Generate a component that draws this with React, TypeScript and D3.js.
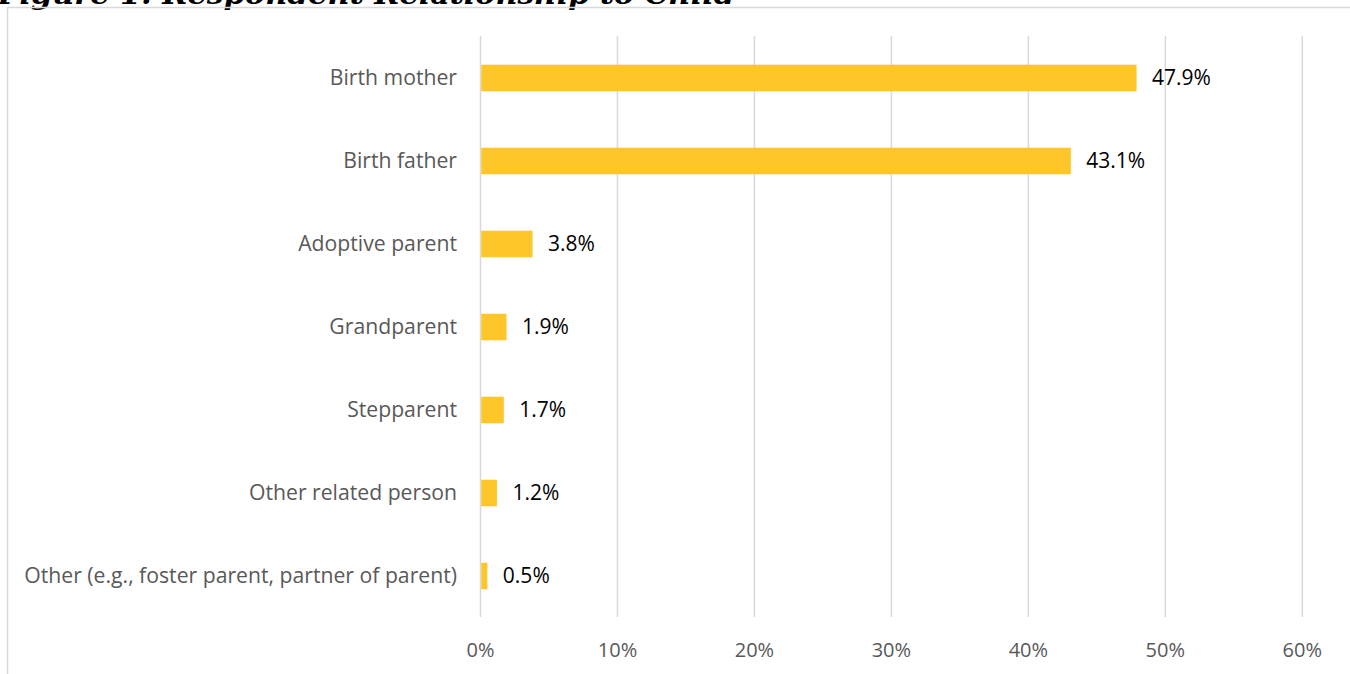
import React from "react";
import * as d3 from "d3";

const categories = [
  "Birth mother",
  "Birth father",
  "Adoptive parent",
  "Grandparent",
  "Stepparent",
  "Other related person",
  "Other (e.g., foster parent, partner of parent)",
];
const values = [47.9, 43.1, 3.8, 1.9, 1.7, 1.2, 0.5];
const ticks = [0, 10, 20, 30, 40, 50, 60];
const title = "Figure 1. Respondent Relationship to Child";

const W = 1350;
const H = 674;

export default function App() {
  const x = d3.scaleLinear().domain([0, 60]).range([480.5, 1302.3]);
  const y = d3
    .scaleBand<string>()
    .domain(categories)
    .range([36, 617])
    .paddingInner(0.68)
    .paddingOuter(0.34);
  const font = "'Open Sans', sans-serif";
  return (
    <svg
      width={W}
      height={H}
      style={{ position: "absolute", left: 0, top: 0, background: "#fff" }}
    >
      <text
        x={-2}
        y={4}
        fontFamily="'DejaVu Serif', serif"
        fontWeight="bold"
        fontStyle="italic"
        fontSize={27}
        fill="#000"
        textLength={737}
        lengthAdjust="spacingAndGlyphs"
      >
        {title}
      </text>
      <rect
        x={7.5}
        y={7.5}
        width={W + 10}
        height={H + 10}
        fill="none"
        stroke="#d9d9d9"
        strokeWidth={1.5}
      />
      {ticks.map((t) => (
        <g key={t}>
          <line
            x1={x(t)}
            x2={x(t)}
            y1={36}
            y2={617}
            stroke="#d9d9d9"
            strokeWidth={1.5}
          />
          <text
            x={x(t)}
            y={657}
            textAnchor="middle"
            fontFamily={font}
            fontSize={20}
            fill="#595959"
          >
            {t}%
          </text>
        </g>
      ))}
      {categories.map((c, i) => {
        const yy = y(c)!;
        const bw = y.bandwidth();
        return (
          <g key={c}>
            <rect
              x={x(0) + 0.75}
              y={yy + 0.5}
              width={x(values[i]) - x(0) - 0.75}
              height={bw}
              fill="#FFC629"
            />
            <text
              x={457}
              y={yy + bw / 2 + 7.5}
              textAnchor="end"
              fontFamily={font}
              fontSize={21.2}
              fill="#595959"
            >
              {c}
            </text>
            <text
              x={x(values[i]) + 15.5}
              y={yy + bw / 2 + 7.5}
              fontFamily={font}
              fontSize={21}
              fill="#000"
            >
              {values[i].toFixed(1)}%
            </text>
          </g>
        );
      })}
    </svg>
  );
}
